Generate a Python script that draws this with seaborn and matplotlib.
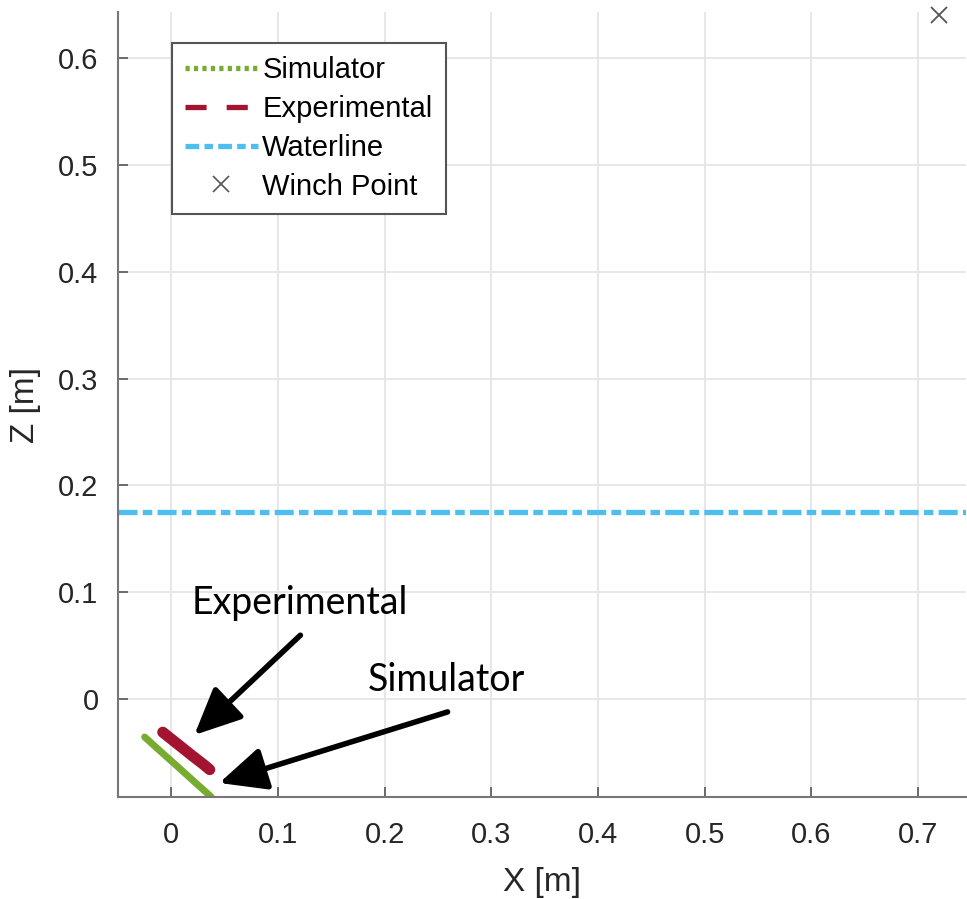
import matplotlib
matplotlib.use("Agg")
import matplotlib.pyplot as plt
from matplotlib.lines import Line2D
import seaborn as sns
import pandas as pd

# Cable shapes in the X-Z plane [m]
sim_x = [-0.025, -0.010, 0.005, 0.020, 0.0375]
sim_z = [-0.0355, -0.049, -0.0624, -0.0759, -0.0916]
exp_x = [-0.008, 0.000, 0.010, 0.020, 0.030, 0.036]
exp_z = [-0.031, -0.0374, -0.0453, -0.0533, -0.061, -0.066]
waterline_z = 0.175
winch_x, winch_z = 0.72, 0.64

x_ticks = [0, 0.1, 0.2, 0.3, 0.4, 0.5, 0.6, 0.7]
y_ticks = [0, 0.1, 0.2, 0.3, 0.4, 0.5, 0.6]
x_tick_labels = ["0", "0.1", "0.2", "0.3", "0.4", "0.5", "0.6", "0.7"]
y_tick_labels = ["0", "0.1", "0.2", "0.3", "0.4", "0.5", "0.6"]

GREEN = "#77AC30"
RED = "#A2142F"
BLUE = "#4DBEEE"
TEXT = "#262626"

sns.set_theme(style="whitegrid")
plt.rcParams["font.family"] = ["Liberation Sans", "DejaVu Sans"]

fig = plt.figure(figsize=(9.67, 8.99), dpi=100)
ax = fig.add_axes([0.122, 0.1135, 0.877, 0.873])

sim = pd.DataFrame({"x": sim_x, "z": sim_z})
exp = pd.DataFrame({"x": exp_x, "z": exp_z})

sns.lineplot(data=sim, x="x", y="z", ax=ax, color=GREEN, lw=5,
             sort=False, solid_capstyle="round")
sns.lineplot(data=exp, x="x", y="z", ax=ax, color=RED, lw=8,
             sort=False, solid_capstyle="round")
ax.axhline(waterline_z, color=BLUE, lw=3.8, ls=(0, (3.6, 1.0, 1.8, 1.0)),
           dash_capstyle="butt")
ax.plot([winch_x], [winch_z], marker="x", color="#555555", ms=11, mew=1.3,
        ls="none", clip_on=False)

ax.set_xlim(-0.05, 0.745)
ax.set_ylim(-0.0916, 0.643)
ax.set_xticks(x_ticks)
ax.set_xticklabels(x_tick_labels)
ax.set_yticks(y_ticks)
ax.set_yticklabels(y_tick_labels)

ax.grid(True, color="#e3e3e3", lw=1.2)
for side in ["top", "right"]:
    ax.spines[side].set_visible(False)
for side in ["left", "bottom"]:
    ax.spines[side].set_color("#777777")
    ax.spines[side].set_linewidth(1.5)
ax.tick_params(axis="both", direction="in", length=7, width=1.2,
               color="#555555", labelsize=21, labelcolor=TEXT,
               bottom=True, left=True)
ax.tick_params(axis="x", pad=17)
ax.tick_params(axis="y", pad=14)

ax.set_xlabel("X [m]", fontsize=24, color=TEXT, labelpad=13)
ax.set_ylabel("Z [m]", fontsize=24, color=TEXT, labelpad=12)

# Callouts: labels and arrows
callout_font = dict(fontsize=27, family=["Lato", "DejaVu Sans"], color="black",
                    ha="center", va="center")
ax.text(0.120, 0.090, "Experimental", **callout_font)
ax.text(0.258, 0.018, "Simulator", **callout_font)
arrow = dict(arrowstyle="-|>,head_length=1.3,head_width=0.6", lw=4,
             color="black", mutation_scale=22, shrinkA=0, shrinkB=0)
ax.annotate("", xy=(0.0216, -0.0336), xytext=(0.121, 0.0598), arrowprops=arrow)
ax.annotate("", xy=(0.045, -0.0785), xytext=(0.259, -0.012), arrowprops=arrow)

handles = [
    Line2D([], [], color=GREEN, lw=3.8, ls=(0, (0.8, 0.8)), dash_capstyle="butt"),
    Line2D([], [], color=RED, lw=3.8, ls=(0, (4, 3.8)), dash_capstyle="butt"),
    Line2D([], [], color=BLUE, lw=3.8, ls=(0, (2.6, 1, 1.6, 1)), dash_capstyle="butt"),
    Line2D([], [], color="#555555", marker="x", ls="none", ms=11, mew=1.2),
]
leg = ax.legend(handles, ["Simulator", "Experimental", "Waterline", "Winch Point"],
                loc="upper left", bbox_to_anchor=(0.0636, 0.9605), fontsize=21,
                frameon=True, fancybox=False, framealpha=1, edgecolor="#555555",
                handlelength=2.5, handletextpad=0.15, labelspacing=0.37,
                borderpad=0.45, borderaxespad=0)
for t in leg.get_texts():
    t.set_color("black")
leg.get_frame().set_linewidth(1.5)

fig.savefig("out.png", dpi=100)
